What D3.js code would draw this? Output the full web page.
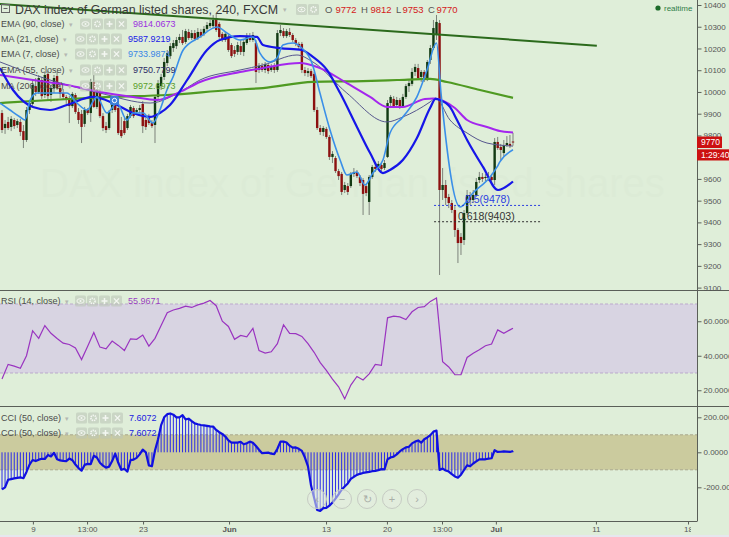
<!DOCTYPE html>
<html><head><meta charset="utf-8">
<script src="https://cdn.jsdelivr.net/npm/d3@7"></script>
<style>html,body{margin:0;padding:0;overflow:hidden;background:#dfeed9}svg{display:block}</style>
</head><body>
<svg id="c" width="729" height="537"></svg>
<script>
// ---------------- DATA ----------------
// 4h candles [open, high, low, close], bar index 0..167
const ohlc = [
[9903,9917,9811,9825],[9834,9871,9807,9853],[9862,9885,9825,9834],[9839,9889,9820,9876],[9871,9880,9830,9843],
[9848,9876,9834,9866],[9862,9876,9797,9816],[9820,9848,9742,9779],[9779,9931,9770,9917],[9917,9963,9899,9949],
[9945,10055,9931,10032],[10027,10064,9981,10000],[10000,10078,9991,10064],[10055,10069,9968,9981],[9986,10092,9972,10078],
[10083,10096,9963,9981],[9986,10032,9954,10018],[10018,10078,9995,10064],[10073,10092,10009,10018],[10018,10041,9972,9991],
[9995,10014,9963,9977],[9977,9986,9945,9968],[9968,9981,9857,9935],[9935,10000,9926,9991],[9986,9995,9899,9908],
[9908,9926,9853,9871],[9899,9917,9765,9839],[9853,9931,9839,9917],[9917,9926,9894,9903],[9903,10060,9862,10046],
[10046,10078,9926,9931],[9931,10018,9922,10009],[10000,10009,9880,9889],[9889,9903,9820,9834],[9843,9862,9811,9825],
[9834,9917,9825,9908],[9917,9963,9903,9945],[9954,9968,9908,9917],[9926,9940,9802,9811],[9825,9885,9788,9797],
[9866,9880,9802,9811],[9834,9899,9825,9889],[9889,9940,9880,9931],[9926,9935,9880,9889],[9908,9926,9899,9917],
[9917,9940,9903,9926],[9945,9958,9811,9843],[9871,9880,9825,9839],[9885,9899,9848,9857],[9857,9871,9834,9843],
[9848,9986,9765,9977],[9977,10055,9963,10041],[10027,10083,10009,10069],[10069,10156,10055,10138],[10133,10193,10119,10179],
[10165,10225,10152,10211],[10202,10239,10184,10225],[10211,10253,10198,10239],[10239,10267,10225,10253],[10253,10285,10216,10225],
[10230,10290,10221,10280],[10276,10290,10239,10248],[10248,10285,10239,10271],[10271,10285,10234,10244],[10248,10294,10239,10276],
[10276,10290,10248,10257],[10267,10303,10257,10290],[10290,10322,10280,10308],[10303,10331,10294,10317],[10303,10354,10294,10331],
[10340,10363,10276,10285],[10313,10322,10244,10253],[10267,10276,10230,10239],[10239,10276,10230,10267],[10253,10262,10184,10193],
[10216,10225,10156,10165],[10193,10211,10161,10175],[10184,10230,10170,10216],[10211,10239,10170,10184],[10184,10239,10165,10230],
[10225,10271,10216,10257],[10257,10271,10230,10239],[10239,10276,10230,10262],[10225,10239,10041,10092],[10101,10133,10087,10119],
[10119,10133,10092,10101],[10101,10138,10087,10129],[10124,10133,10083,10096],[10101,10129,10092,10119],[10119,10133,10087,10101],
[10101,10285,10092,10271],[10271,10308,10257,10285],[10280,10294,10248,10257],[10257,10290,10248,10280],[10276,10294,10253,10262],
[10262,10271,10230,10239],[10239,10248,10211,10221],[10221,10230,10193,10207],[10221,10230,10087,10101],[10101,10115,10073,10087],
[10087,10110,10069,10096],[10096,10106,10064,10073],[10083,10092,9908,9917],[9917,9931,9825,9834],[9834,9848,9802,9816],
[9816,9843,9797,9834],[9830,9839,9784,9793],[9793,9802,9687,9701],[9701,9728,9673,9715],[9696,9705,9627,9636],
[9636,9646,9595,9613],[9623,9632,9526,9540],[9549,9586,9535,9572],[9567,9581,9526,9540],[9567,9632,9558,9623],
[9623,9650,9609,9632],[9632,9641,9604,9613],[9609,9618,9567,9581],[9595,9604,9434,9531],[9567,9577,9521,9535],
[9494,9618,9434,9609],[9609,9664,9600,9655],[9655,9678,9632,9646],[9650,9682,9641,9669],[9664,9673,9636,9646],
[9650,9687,9641,9673],[9701,9963,9696,9949],[9949,9986,9926,9977],[9968,9981,9926,9935],[9940,9977,9931,9963],
[9963,9972,9922,9931],[9935,9991,9926,9977],[9977,10037,9968,10027],[10027,10055,10000,10041],[10037,10110,10027,10092],
[10092,10129,10073,10115],[10110,10129,10055,10064],[10069,10101,10046,10092],[10092,10101,10046,10055],[10060,10147,10050,10138],
[10147,10216,10129,10202],[10202,10331,10193,10294],[10262,10354,10239,10322],[10317,10331,9158,9549],[9549,9650,9503,9572],
[9572,9595,9480,9512],[9517,9531,9466,9489],[9489,9503,9443,9457],[9457,9475,9333,9365],[9365,9374,9213,9305],
[9333,9351,9250,9305],[9319,9457,9296,9443],[9443,9549,9434,9526],[9526,9540,9480,9503],[9503,9549,9489,9526],
[9526,9604,9517,9586],[9595,9632,9581,9609],[9609,9627,9586,9600],[9604,9623,9590,9609],[9609,9632,9590,9604],
[9609,9623,9577,9595],[9595,9788,9572,9770],[9770,9793,9733,9742],[9747,9761,9687,9733],[9719,9779,9701,9756],
[9756,9797,9747,9765],[9761,9802,9742,9751],[9772,9812,9753,9770]
];
// moving averages as [bar index, value]
const ema90 = [[-0.65,10078],[10.1,10055],[21.2,10032],[32,10000],[42.8,9977],[50.7,9963],[58.2,10000],[64.7,10046],[77.8,10092],[85.3,10110],[97.4,10133],[103,10115],[112.7,10041],[120.3,9977],[125.8,9931],[131,9931],[138.2,9968],[141,9970],[148,9926],[152,9871],[158.5,9839],[162.7,9820],[167,9814]];
const ma200 = [[-0.65,9949],[15.7,9963],[35.3,9977],[53.9,9986],[74.5,10009],[85.3,10018],[101.6,10046],[118,10050],[129.1,10055],[139.9,10060],[145.4,10046],[156.2,10009],[167,9973]];
const ema55 = [[-0.65,10138],[15.7,10055],[32,9995],[48.4,9949],[59.2,10009],[64.7,10055],[77.8,10101],[85.3,10124],[96.4,10170],[101.6,10138],[112.7,9995],[125.8,9862],[131,9885],[139.9,9954],[141.7,9972],[146.4,9871],[152,9811],[158.5,9765],[167,9751]];
const ma21 = [[-0.65,10110],[3.6,10009],[10.1,9931],[15.7,9917],[21.2,9940],[29.7,9977],[36.3,9949],[42.8,9903],[48.4,9885],[51.6,9903],[54.9,9940],[60.5,10055],[67,10193],[71.2,10239],[77.8,10257],[83.3,10253],[85.3,10216],[90.8,10202],[98,10193],[101.6,10161],[106.2,10101],[110.5,9995],[116,9839],[120.3,9719],[124.5,9627],[126.8,9641],[131,9687],[135.6,9788],[139.9,9926],[141.7,9968],[143.1,9963],[146.4,9931],[148.7,9871],[152,9779],[157.2,9655],[162.1,9549],[167,9588]];
const ema7 = [[-0.65,9949],[2.6,9917],[5.9,9885],[7.5,9871],[9.2,9963],[11.4,9995],[16.7,9995],[21.2,9995],[24.5,9949],[27.8,9917],[31,9977],[34.3,9903],[37.6,9949],[40.8,9871],[42.8,9903],[46.1,9903],[49.3,9857],[51.6,9917],[53.9,10009],[55.9,10069],[59.2,10193],[64.7,10253],[70.3,10299],[73.5,10271],[77.8,10239],[82,10253],[84.3,10179],[87.6,10138],[89.9,10156],[91.8,10216],[95.1,10225],[98,10202],[101.3,10133],[103.9,9995],[107.2,9825],[110.5,9687],[112.7,9618],[116,9632],[118.6,9572],[121.2,9627],[124.5,9687],[126.8,9811],[131,9885],[135.6,9977],[138.9,10101],[142,10225],[143.5,9990],[149.7,9471],[153.9,9535],[159.5,9609],[161.8,9655],[162.7,9678],[167,9734]];
const trendLine = [[-0.65,10405],[194.4,10213]];
const fibValues = [9478, 9403];
const fibLabels = ["0.5(9478)", "0.618(9403)"];
const fibRange = [141.2, 176.5];
// RSI(14) read every second bar (bars 0,2,...,166) + last bar 167
const rsi = [26.5,35,34,32.7,40,54.5,50.1,57.5,53,50,
 47.3,46.5,44.5,37.8,45.5,53.5,45,44,48.5,46,
 43,49.8,49.5,52,45.6,50.1,57.5,65,66.5,67.5,
 68.7,68,69.5,70.5,72,69,60,57,49.5,51.8,
 51,55.9,43,41.5,42.3,47,58,53,52.8,51.2,
 47,42,36,31.5,26.5,22,15,23,28,26,
 29.5,35,34.5,62,63,62.5,61,65.5,68,68.5,
 71.5,73.5,36.5,33.5,29,29,39,41.5,43.5,45.8,
 46.8,55,53,55,55.9671];
// CCI(50) per bar
const cci = [-212,-200,-157,-153,-149,-146,-143,-148,-112,-70,
 -44,-50,-42,-37,-38,-16,-24,-3,-40,-46,
 -49,-50,-36,-45,-70,-90,-105,-72,-66,-68,
 -20,-30,-60,-76,-88,-82,-50,-8,-60,-100,
 -95,-110,-45,-42,-32,-12,15,0,-75,-80,
 10,75,155,200,218,222,215,200,200,212,
 188,192,178,165,160,156,154,151,148,147,
 128,115,105,90,68,55,55,55,60,46,
 52,61,55,36,15,-5,-3,-2,-8,-10,
 20,61,61,56,38,27,28,20,8,-30,
 -80,-190,-260,-330,-335,-319,-318,-305,-287,-265,
 -240,-214,-195,-178,-152,-140,-129,-123,-118,-115,
 -112,-108,-106,-102,-96,-98,-40,-30,-25,-12,
 5,18,28,32,51,61,68,55,75,85,
 98,118,124,-101,-93,-104,-110,-125,-138,-145,
 -128,-101,-75,-80,-64,-52,-40,-40,-40,-36,
 -34,12,2,3,5,4,2,7.6072];
const priceTicks = [10400,10300,10200,10100,10000,9900,9800,9700,9600,9500,9400,9300,9200,9100];
const rsiTicks = [60,40,20];
const rsiTickLabels = ["60.0000","40.0000","20.0000"];
const cciTicks = [200,0,-200];
const cciTickLabels = ["200.0000","0.0000","-200.0000"];
const xTickPos = [10.1,27.8,46.1,74.2,105.9,125.8,143.8,161.4,194.1,224.2];
const xTickLabels = ["9","13:00","23","Jun","13","20","13:00","Jul","11","18"];
const title = "DAX index of German listed shares, 240, FXCM";
const ohlcLetters = ["O","H","L","C"];
const ohlcValues = ["9772","9812","9753","9770"];
const legendLabels = ["EMA (90, close)","MA (21, close)","EMA (7, close)","EMA (55, close)","MA (200, close)"];
const legendValues = ["9814.0673","9587.9219","9733.9874","9750.7799","9972.6973"];
const rsiLabel = "RSI (14, close)", rsiValue = "55.9671";
const cciLabels = ["CCI (50, close)","CCI (50, close)"], cciValue = "7.6072";
const lastPrice = "9770", countdown = "1:29:40";

// ---------------- DRAW ----------------
const FONT = "Arial, 'Liberation Sans', sans-serif";
const svg = d3.select("#c").style("font-family", FONT);
const BG = "#dfeed9";
const AX = 697;
svg.append("rect").attr("width",729).attr("height",537).attr("fill",BG);
svg.append("rect").attr("y",535).attr("width",729).attr("height",2).attr("fill","#e6e7ee");

const x = d3.scaleLinear().domain([0,167]).range([2,513]);
const yP = d3.scaleLinear().domain([9100,10400]).range([287.6,5]);
const yR = d3.scaleLinear().domain([30,70]).range([373,304]);
const yC = d3.scaleLinear().domain([-100,100]).range([469.8,434.8]);

const defs = svg.append("defs");
function clip(id,x0,y0,w,h){defs.append("clipPath").attr("id",id).append("rect").attr("x",x0).attr("y",y0).attr("width",w).attr("height",h);}
clip("cMain",0,0,AX,290); clip("cRsi",0,291,AX,115); clip("cCci",0,407,AX,114); clip("cX",0,521,691,16);

// bands
svg.append("rect").attr("x",0).attr("width",AX).attr("y",yR(70)).attr("height",yR(30)-yR(70)).attr("fill","#d8d4e2");
[70,30].forEach(v=>svg.append("line").attr("x1",0).attr("x2",AX).attr("y1",yR(v)).attr("y2",yR(v)).attr("stroke","#bba9cc").attr("stroke-dasharray","3,2"));
svg.append("rect").attr("x",0).attr("width",AX).attr("y",yC(100)).attr("height",yC(-100)-yC(100)).attr("fill","#cbcb9e");
[100,-100].forEach(v=>svg.append("line").attr("x1",0).attr("x2",AX).attr("y1",yC(v)).attr("y2",yC(v)).attr("stroke","#aaa98e").attr("stroke-dasharray","3,2"));

// watermark (very faint)
svg.append("text").attr("x",40).attr("y",197).attr("font-size",40).attr("fill","#000").attr("opacity",0.006).text("DAX index of German listed shares");

// candles
const gMain = svg.append("g").attr("clip-path","url(#cMain)");
gMain.selectAll(".wick").data(ohlc).join("line")
  .attr("x1",(d,i)=>x(i)).attr("x2",(d,i)=>x(i))
  .attr("y1",d=>yP(d[1])).attr("y2",d=>yP(d[2]))
  .attr("stroke","#7d837b").attr("stroke-width",1);
gMain.selectAll(".body").data(ohlc).join("rect")
  .attr("x",(d,i)=>x(i)-1.2).attr("width",2.4)
  .attr("y",d=>yP(Math.max(d[0],d[3])))
  .attr("height",d=>Math.max(1,Math.abs(yP(d[0])-yP(d[3]))))
  .attr("fill",d=>d[3]>=d[0]?"#123a13":"#8c1010");

// moving averages
const ln = d3.line().x(d=>x(d[0])).y(d=>yP(d[1])).curve(d3.curveMonotoneX);
const maDefs = [[ma200,"#4f9a22",2.2],[ema55,"#56568e",1],[ema90,"#a426ee",2],[ma21,"#1616e8",2.2],[ema7,"#3a8fe8",1.6]];
maDefs.forEach(([data,col,w])=>gMain.append("path").attr("d",ln(data)).attr("fill","none").attr("stroke",col).attr("stroke-width",w));
// trend line
gMain.append("path").attr("d",d3.line().x(d=>x(d[0])).y(d=>yP(d[1]))(trendLine)).attr("stroke","#2b6a1c").attr("stroke-width",2).attr("fill","none");
// fib levels
const fibCols = ["#2c3fe0","#333"];
fibValues.forEach((v,k)=>{
  gMain.append("line").attr("x1",x(fibRange[0])).attr("x2",x(fibRange[1])).attr("y1",yP(v)).attr("y2",yP(v))
    .attr("stroke",fibCols[k]).attr("stroke-width",1).attr("stroke-dasharray","2,2");
});
gMain.append("text").attr("x",465).attr("y",yP(fibValues[0])-2).attr("font-size",10.5).attr("fill","#2c3fe0").text(fibLabels[0]);
gMain.append("text").attr("x",458).attr("y",yP(fibValues[1])-2).attr("font-size",10.5).attr("fill","#333").text(fibLabels[1]);
// event marker
gMain.append("rect").attr("x",110).attr("y",96).attr("width",9).attr("height",9).attr("rx",1.5).attr("fill","#3b7fd8");
gMain.append("circle").attr("cx",114.5).attr("cy",100.5).attr("r",2.2).attr("fill","none").attr("stroke","#fff").attr("stroke-width",1);

// RSI
const gR = svg.append("g").attr("clip-path","url(#cRsi)");
const rsiPts = rsi.map((v,k)=>[k<84?2*k:167, v]);
gR.append("path").attr("d",d3.line().x(d=>x(d[0])).y(d=>yR(d[1]))(rsiPts)).attr("fill","none").attr("stroke","#9a34c0").attr("stroke-width",1.2);

// CCI
const gC = svg.append("g").attr("clip-path","url(#cCci)");
gC.selectAll(".h").data(cci).join("line")
  .attr("x1",(d,i)=>x(i)).attr("x2",(d,i)=>x(i)).attr("y1",yC(0)).attr("y2",d=>yC(d))
  .attr("stroke","#2b2be8").attr("stroke-width",1);
gC.append("path").attr("d",d3.line().x((d,i)=>x(i)).y(d=>yC(d))(cci)).attr("fill","none").attr("stroke","#1010e0").attr("stroke-width",2.2).attr("stroke-linejoin","round");

// nav buttons
const navGlyph = ["‹","−","↻","+","›"];
[317,342,367,392,417].forEach((cx,k)=>{
  svg.append("circle").attr("cx",cx).attr("cy",499).attr("r",9.5).attr("fill","#e3ece0").attr("fill-opacity",0.55).attr("stroke","#c6cbc3");
  svg.append("text").attr("x",cx).attr("y",503).attr("text-anchor","middle").attr("font-size",11).attr("fill","#a9aea7").text(navGlyph[k]);
});

// separators & axes lines
[290.5,406.5].forEach(y=>svg.append("line").attr("x1",0).attr("x2",729).attr("y1",y).attr("y2",y).attr("stroke","#5a5f58").attr("stroke-width",1));
svg.append("line").attr("x1",AX+0.5).attr("x2",AX+0.5).attr("y1",0).attr("y2",521).attr("stroke","#5a5f58");
svg.append("line").attr("x1",0).attr("x2",AX+0.5).attr("y1",521.5).attr("y2",521.5).attr("stroke","#5a5f58");

function styleAxis(g){
  g.select(".domain").remove();
  g.selectAll("line").attr("stroke","#5a5f58");
  g.selectAll("text").attr("fill","#555").attr("font-size",8).attr("font-family",FONT);
}
svg.append("g").attr("transform",`translate(${AX+0.5},0)`)
  .call(d3.axisRight(yP).tickValues(priceTicks).tickSize(4).tickPadding(2).tickFormat(d=>d)).call(styleAxis);
svg.append("g").attr("transform",`translate(${AX+0.5},0)`)
  .call(d3.axisRight(yR).tickValues(rsiTicks).tickSize(4).tickPadding(2).tickFormat((d,i)=>rsiTickLabels[i])).call(styleAxis);
svg.append("g").attr("transform",`translate(${AX+0.5},0)`)
  .call(d3.axisRight(yC).tickValues(cciTicks).tickSize(4).tickPadding(2).tickFormat((d,i)=>cciTickLabels[i])).call(styleAxis);
const gx = svg.append("g").attr("clip-path","url(#cX)").append("g").attr("transform","translate(0,521.5)")
  .call(d3.axisBottom(x).tickValues(xTickPos).tickSize(3).tickPadding(2).tickFormat((d,i)=>xTickLabels[i])).call(styleAxis);
gx.selectAll("text").attr("font-weight",(d,i)=>(xTickLabels[i]==="Jun"||xTickLabels[i]==="Jul")?"bold":"normal");

// price boxes
svg.append("rect").attr("x",AX).attr("y",136.5).attr("width",25).attr("height",11.5).attr("fill","#cc1111");
svg.append("text").attr("x",AX+4).attr("y",145.3).attr("font-size",8.5).attr("fill","#fff").text(lastPrice);
svg.append("rect").attr("x",AX).attr("y",149.3).attr("width",32).attr("height",11.2).attr("fill","#cc1111");
svg.append("text").attr("x",AX+4).attr("y",158).attr("font-size",8.5).attr("fill","#fff").text(countdown);

// realtime
svg.append("circle").attr("cx",658).attr("cy",8).attr("r",2.6).attr("fill","#1d6b2a");
svg.append("text").attr("x",664).attr("y",10.8).attr("font-size",8).attr("fill","#2f7d48").text("realtime");

// ---------- legends ----------
function buttons(x0,cy,n){
  for(let k=0;k<n;k++){
    const bx=x0+k*12, by=cy-5.5;
    svg.append("rect").attr("x",bx).attr("y",by).attr("width",11).attr("height",11).attr("rx",1.5).attr("fill","#bcc6b8").attr("fill-opacity",0.6);
    const c=bx+5.5;
    if(k===0){svg.append("ellipse").attr("cx",c).attr("cy",cy).attr("rx",3.6).attr("ry",2.3).attr("fill","none").attr("stroke","#f4f7f2").attr("stroke-width",1);
      svg.append("circle").attr("cx",c).attr("cy",cy).attr("r",1).attr("fill","#f4f7f2");}
    else if(k===1){svg.append("circle").attr("cx",c).attr("cy",cy).attr("r",2.6).attr("fill","none").attr("stroke","#f4f7f2").attr("stroke-width",1.6).attr("stroke-dasharray","1.4,0.8");}
    else if(k===2){svg.append("path").attr("d",`M${c-3},${cy}H${c+3}M${c},${cy-3}V${cy+3}`).attr("stroke","#f4f7f2").attr("stroke-width",1.5);}
    else {svg.append("path").attr("d",`M${c-2.6},${cy-2.6}L${c+2.6},${cy+2.6}M${c+2.6},${cy-2.6}L${c-2.6},${cy+2.6}`).attr("stroke","#f4f7f2").attr("stroke-width",1.3);}
  }
}
function legendRow(label,value,valueColor,cy,valueX){
  const t = svg.append("text").attr("x",1).attr("y",cy+3.2).attr("font-size",9).attr("fill","#4a4a4a").text(label);
  const w = t.node().getComputedTextLength();
  svg.append("text").attr("x",w+5).attr("y",cy+3).attr("font-size",7).attr("fill","#b4b8b2").text("▾");
  buttons(valueX-53,cy,4);
  svg.append("text").attr("x",valueX).attr("y",cy+3.2).attr("font-size",9).attr("fill",valueColor).text(value);
}
// title row
svg.append("rect").attr("x",1.5).attr("y",4.5).attr("width",8).attr("height",8).attr("fill","none").attr("stroke","#666");
svg.append("line").attr("x1",3.5).attr("x2",7.5).attr("y1",8.5).attr("y2",8.5).attr("stroke","#666");
svg.append("text").attr("x",15).attr("y",13.8).attr("font-size",12.4).attr("fill","#3a3a3a").text(title);
svg.append("text").attr("x",283).attr("y",12).attr("font-size",7).attr("fill","#b4b8b2").text("▾");
buttons(296,9.5,2);
const ohlcX=[325,361,396,428], ohlcVX=[335.5,370.5,402.5,436.5];
ohlcLetters.forEach((l,k)=>{
  svg.append("text").attr("x",ohlcX[k]).attr("y",13.3).attr("font-size",9.5).attr("fill","#555").text(l);
  svg.append("text").attr("x",ohlcVX[k]).attr("y",13.3).attr("font-size",9.5).attr("fill","#d42020").text(ohlcValues[k]);
});
const legCols = ["#9b2fe0","#2020e6","#3a86e6","#2b2b66","#5a9e2a"];
const legY = [24,39,54,70,86];
const legVX = [133,128,128,133,133];
legendLabels.forEach((l,k)=>legendRow(l,legendValues[k],legCols[k],legY[k],legVX[k]));
legendRow(rsiLabel,rsiValue,"#9a3cc4",301,128);
legendRow(cciLabels[0],cciValue,"#2020e0",418,129);
legendRow(cciLabels[1],cciValue,"#2020e0",433,129);
</script>
</body></html>
